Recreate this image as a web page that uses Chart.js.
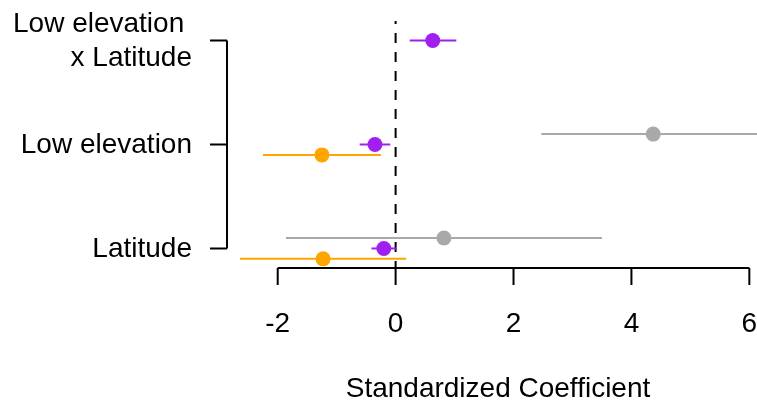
<!DOCTYPE html>
<html>
<head>
<meta charset="utf-8">
<script src="https://cdn.jsdelivr.net/npm/chart.js@4"></script>
<style>
  html, body { margin: 0; padding: 0; background: #fff; }
  #wrap { width: 757px; height: 402px; }
</style>
</head>
<body>
<div id="wrap"><canvas id="coefChart" width="757" height="402"></canvas></div>
<script>
// Rows (y position): 1 = Latitude, 2 = Low elevation, 3 = Low elevation x Latitude
const rowLabels = [['Latitude'], ['Low elevation'], ['Low elevation ', 'x Latitude']];
const rowPos = [1, 2, 3];

// Purple series: all three rows
const purpleRows = [1, 2, 3];
const purpleEst = [-0.20, -0.35, 0.63];
const purpleLo = [-0.41, -0.61, 0.24];
const purpleHi = [0.02, -0.09, 1.03];

// Orange series: sits a little below the row
const orangeRows = [0.9, 1.9];
const orangeEst = [-1.23, -1.25];
const orangeLo = [-2.64, -2.25];
const orangeHi = [0.18, -0.25];

// Grey series: sits a little above the row
const greyRows = [1.1, 2.1];
const greyEst = [0.82, 4.37];
const greyLo = [-1.86, 2.47];
const greyHi = [3.50, 6.30];

const xTicks = [-2, 0, 2, 4, 6];
const xTitle = 'Standardized Coefficient';

const PURPLE = '#A020F0';
const ORANGE = '#FFA500';
const GREY = '#A9A9A9';
const FONT = '"Liberation Sans", Arial, sans-serif';

/**
 * Build line datasets for the interval segments and one scatter dataset for the estimates
 */
function buildSeries(rows, est, lo, hi, color) {
    const sets = [];
    rows.forEach((y, i) => {
        sets.push({
            type: 'line',
            data: [{ x: lo[i], y: y }, { x: hi[i], y: y }],
            borderColor: color,
            borderWidth: 2,
            pointRadius: 0,
            order: 2,
        });
    });
    sets.push({
        type: 'scatter',
        data: rows.map((y, i) => ({ x: est[i], y: y })),
        backgroundColor: color,
        borderColor: color,
        pointRadius: 7.5,
        pointHoverRadius: 7.5,
        borderWidth: 0,
        order: 0,
    });
    return sets;
}

// R-style axes: x axis spans first..last tick, y axis spans first..last row
const rAxesPlugin = {
    id: 'rAxes',
    afterDraw(chart) {
        const { ctx, chartArea, scales } = chart;
        const xs = scales.x, ys = scales.y;
        ctx.save();
        ctx.strokeStyle = '#000';
        ctx.fillStyle = '#000';
        ctx.lineWidth = 2;
        ctx.lineCap = 'butt';

        // x axis
        const yb = chartArea.bottom;
        const x0 = xs.getPixelForValue(xTicks[0]);
        const x1 = xs.getPixelForValue(xTicks[xTicks.length - 1]);
        ctx.beginPath();
        ctx.moveTo(x0, yb);
        ctx.lineTo(x1, yb);
        xTicks.forEach(t => {
            const px = xs.getPixelForValue(t);
            ctx.moveTo(px, yb);
            ctx.lineTo(px, yb + 17);
        });
        ctx.stroke();

        ctx.font = '28px ' + FONT;
        ctx.textAlign = 'center';
        ctx.textBaseline = 'middle';
        xTicks.forEach(t => {
            ctx.fillText(String(t), xs.getPixelForValue(t), yb + 56);
        });
        ctx.fillText(xTitle, 498, yb + 121);

        // y axis
        const xl = chartArea.left;
        const yTop = ys.getPixelForValue(rowPos[rowPos.length - 1]);
        const yBot = ys.getPixelForValue(rowPos[0]);
        ctx.beginPath();
        ctx.moveTo(xl, yTop);
        ctx.lineTo(xl, yBot);
        rowPos.forEach(r => {
            const py = ys.getPixelForValue(r);
            ctx.moveTo(xl, py);
            ctx.lineTo(xl - 17, py);
        });
        ctx.stroke();

        ctx.textAlign = 'right';
        const lineH = 34;
        rowPos.forEach((r, i) => {
            const lines = rowLabels[i];
            const py = ys.getPixelForValue(r) + 1;
            const start = py - (lines.length - 1) * lineH / 2;
            lines.forEach((txt, j) => {
                ctx.fillText(txt, xl - 35, start + j * lineH);
            });
        });
        ctx.restore();
    }
};

const datasets = [].concat(
    [{
        type: 'line',
        data: [{ x: 0, y: 3.188 }, { x: 0, y: 0.812 }],
        borderColor: '#000',
        borderWidth: 2,
        borderDash: [10, 9],
        borderDashOffset: 7,
        pointRadius: 0,
        order: 3,
    }],
    buildSeries(greyRows, greyEst, greyLo, greyHi, GREY),
    buildSeries(purpleRows, purpleEst, purpleLo, purpleHi, PURPLE),
    buildSeries(orangeRows, orangeEst, orangeLo, orangeHi, ORANGE)
);

new Chart(document.getElementById('coefChart'), {
    type: 'scatter',
    data: { datasets: datasets },
    options: {
        responsive: false,
        animation: false,
        layout: { autoPadding: false, padding: { left: 227, right: 0, top: 21, bottom: 134 } },
        plugins: {
            legend: { display: false },
            tooltip: { enabled: false }
        },
        scales: {
            x: { type: 'linear', min: -2.86, max: 6.13, display: false },
            y: { type: 'linear', min: 0.812, max: 3.188, display: false }
        }
    },
    plugins: [rAxesPlugin]
});
</script>
</body>
</html>
